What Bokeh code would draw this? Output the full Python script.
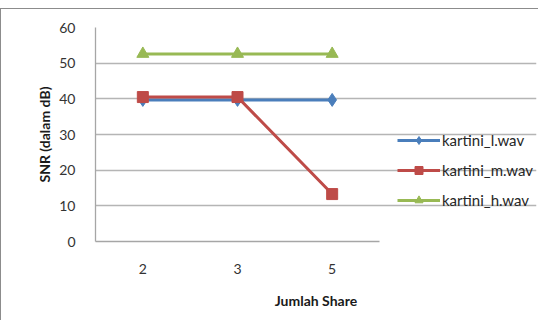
from bokeh.plotting import figure
from bokeh.models import Legend, LegendItem, FixedTicker, Range1d, Spacer
from bokeh.layouts import column
from bokeh.embed import file_html
from bokeh.resources import INLINE

categories = ["2", "3", "5"]
snr_l = [39.7, 39.7, 39.7]
snr_m = [40.5, 40.5, 13.3]
snr_h = [52.6, 52.6, 52.6]
series_names = ["kartini_l.wav", "kartini_m.wav", "kartini_h.wav"]
y_ticks = [0, 10, 20, 30, 40, 50, 60]

FONT = "Lato"

xs = list(range(len(categories)))
plot_w = 284          # width of the category area in px
frame_w = 441         # frame width incl. legend area
unit = plot_w / len(categories)
x_end = -0.5 + frame_w / unit

p = figure(width=538, height=312, x_range=Range1d(-0.5, x_end), y_range=Range1d(0, 60),
           output_backend="svg", toolbar_location=None,
           min_border_left=94, min_border_top=18, min_border_right=3, min_border_bottom=80)
p.styles = {"border-left": "1px solid #8c8c8c", "border-top": "1px solid #8c8c8c"}
p.outline_line_color = None
p.background_fill_color = "white"
p.border_fill_color = "white"

p.xgrid.grid_line_color = None
p.ygrid.grid_line_color = "#b5b5b5"
p.ygrid.grid_line_width = 1.3
p.ygrid.bounds = (-0.5, len(categories) - 0.5)
p.yaxis.ticker = FixedTicker(ticks=y_ticks)
p.xaxis.ticker = FixedTicker(ticks=xs)
p.xaxis.major_label_overrides = {i: c for i, c in zip(xs, categories)}
p.xaxis.bounds = (-0.5, len(categories) - 0.5)

for ax in (p.xaxis[0], p.yaxis[0]):
    ax.axis_line_color = "#a6a6a6"
    ax.axis_line_width = 1.3
    ax.major_tick_line_color = None
    ax.minor_tick_line_color = None
    ax.major_label_text_font = FONT
    ax.major_label_text_font_size = "14px"
    ax.major_label_text_color = "#333333"
    ax.axis_label_text_font = FONT
    ax.axis_label_text_font_size = "14px"
    ax.axis_label_text_font_style = "bold"
    ax.axis_label_text_color = "#1a1a1a"

p.yaxis.axis_label = "SNR (dalam dB)"
p.yaxis.major_label_standoff = 14
p.yaxis.axis_label_standoff = 3
p.xaxis.axis_label = "Jumlah Share"
p.xaxis.major_label_standoff = 16
p.xaxis.axis_label_standoff = 15

c_l, c_m, c_h = "#4a7ebb", "#be4b48", "#98b954"

r1 = p.line(xs, snr_l, line_color=c_l, line_width=3)
m1 = p.scatter(xs, snr_l, marker="diamond", size=13, color=c_l)
r2 = p.line(xs, snr_m, line_color=c_m, line_width=3)
m2 = p.scatter(xs, snr_m, marker="square", size=11, color=c_m)
r3 = p.line(xs, snr_h, line_color=c_h, line_width=3)
m3 = p.scatter(xs, snr_h, marker="triangle", size=12, color=c_h)

legend = Legend(items=[
    LegendItem(label=series_names[0], renderers=[r1, m1]),
    LegendItem(label=series_names[1], renderers=[r2, m2]),
    LegendItem(label=series_names[2], renderers=[r3, m3]),
], location=(302, 31))
legend.border_line_color = None
legend.background_fill_alpha = 0
legend.padding = 0
legend.margin = 0
legend.spacing = 10
legend.glyph_width = 43
legend.glyph_height = 20
legend.label_standoff = 2
legend.label_text_font = FONT
legend.label_text_font_size = "15px"
legend.label_text_color = "#262626"
p.add_layout(legend, "center")

layout = column(Spacer(height=8), p)

open("out.html", "w").write(file_html(layout, INLINE))
